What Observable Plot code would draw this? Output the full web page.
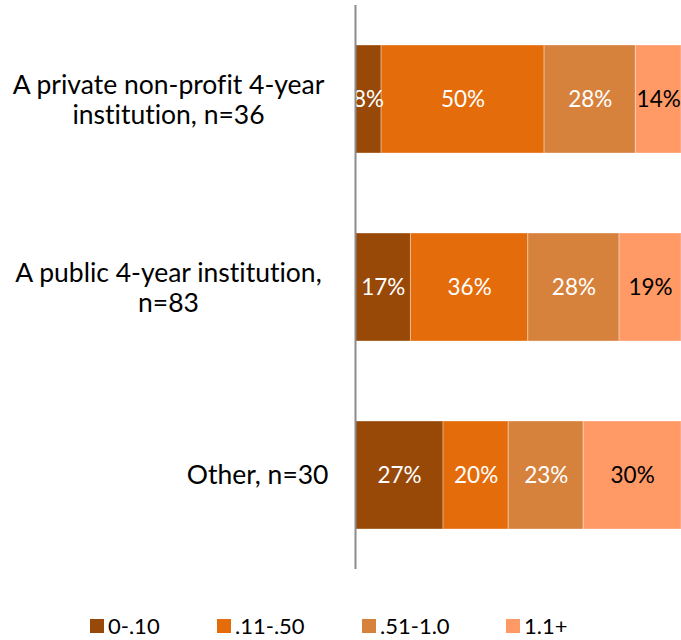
<!DOCTYPE html>
<html>
<head>
<meta charset="utf-8">
<script src="https://cdn.jsdelivr.net/npm/d3@7"></script>
<script src="https://cdn.jsdelivr.net/npm/@observablehq/plot@0.6"></script>
<style>
  html, body { margin: 0; padding: 0; background: #fff; }
  body { width: 681px; height: 640px; overflow: hidden; font-family: Lato, "Open Sans", sans-serif; font-variant-ligatures: none; }
  svg text { font-variant-ligatures: none; }
  #legend { display: flex; align-items: center; padding-left: 90px; margin-top: 37px; font-size: 22px; color: #000; }
  #legend .item { display: flex; align-items: center; }
  #legend .sw { width: 14px; height: 14px; margin-right: 4px; }
</style>
</head>
<body>
<div id="chart"></div>
<div id="legend"></div>
<script>
const categories = ["A private non-profit 4-year institution, n=36", "A public 4-year institution, n=83", "Other, n=30"];
const categoryLines = ["A private non-profit 4-year\ninstitution, n=36", "A public 4-year institution,\nn=83", "Other, n=30"];
const series = ["0-.10", ".11-.50", ".51-1.0", "1.1+"];
const privateNonProfit = [8, 50, 28, 14];
const public4Year = [17, 36, 28, 19];
const other = [27, 20, 23, 30];
const colors = ["#984807", "#E46C0A", "#D6823D", "#FF9966"];
const labelColors = ["#ffffff", "#ffffff", "#ffffff", "#000000"];

const rows = [privateNonProfit, public4Year, other];
const data = [];
rows.forEach((vals, i) => vals.forEach((v, j) => data.push({cat: categories[i], series: series[j], value: v})));
const labels = categories.map((c, i) => ({cat: c, text: categoryLines[i], multi: categoryLines[i].includes("\n")}));

const chart = Plot.plot({
  width: 681,
  height: 575,
  marginLeft: 355,
  marginRight: 0,
  marginTop: 5,
  marginBottom: 6,
  style: {fontFamily: "Lato, 'Open Sans', sans-serif", background: "#fff"},
  x: {domain: [0, 100], axis: null},
  y: {domain: categories, axis: null, paddingInner: 0.425, paddingOuter: 0.207},
  color: {domain: series, range: colors},
  marks: [
    Plot.barX(data, Plot.stackX({x: "value", y: "cat", fill: "series", order: series, stroke: "#fff", strokeOpacity: 0.35, strokeWidth: 1})),
    Plot.textX(data, Plot.stackX({x: "value", y: "cat", z: "series", order: series, text: d => d.value + "%",
      fill: d => labelColors[series.indexOf(d.series)], fontSize: 22.5})),
    Plot.ruleX([0], {stroke: "#8c8c8c", strokeWidth: 2}),
    Plot.text(labels.filter(d => d.multi), {y: "cat", text: "text", frameAnchor: "left", textAnchor: "middle", dx: -187, fontSize: 26.5, lineHeight: 1.14, fill: "#000"}),
    Plot.text(labels.filter(d => !d.multi), {y: "cat", text: "text", frameAnchor: "left", textAnchor: "end", dx: -27, fontSize: 26.5, fill: "#000"})
  ]
});
document.getElementById("chart").appendChild(chart);

const itemWidths = [127, 145, 144, null];
const legend = document.getElementById("legend");
series.forEach((s, i) => {
  const item = document.createElement("div");
  item.className = "item";
  if (itemWidths[i]) item.style.width = itemWidths[i] + "px";
  const sw = document.createElement("div");
  sw.className = "sw";
  sw.style.background = colors[i];
  const t = document.createElement("span");
  t.textContent = s;
  item.appendChild(sw);
  item.appendChild(t);
  legend.appendChild(item);
});
</script>
</body>
</html>
